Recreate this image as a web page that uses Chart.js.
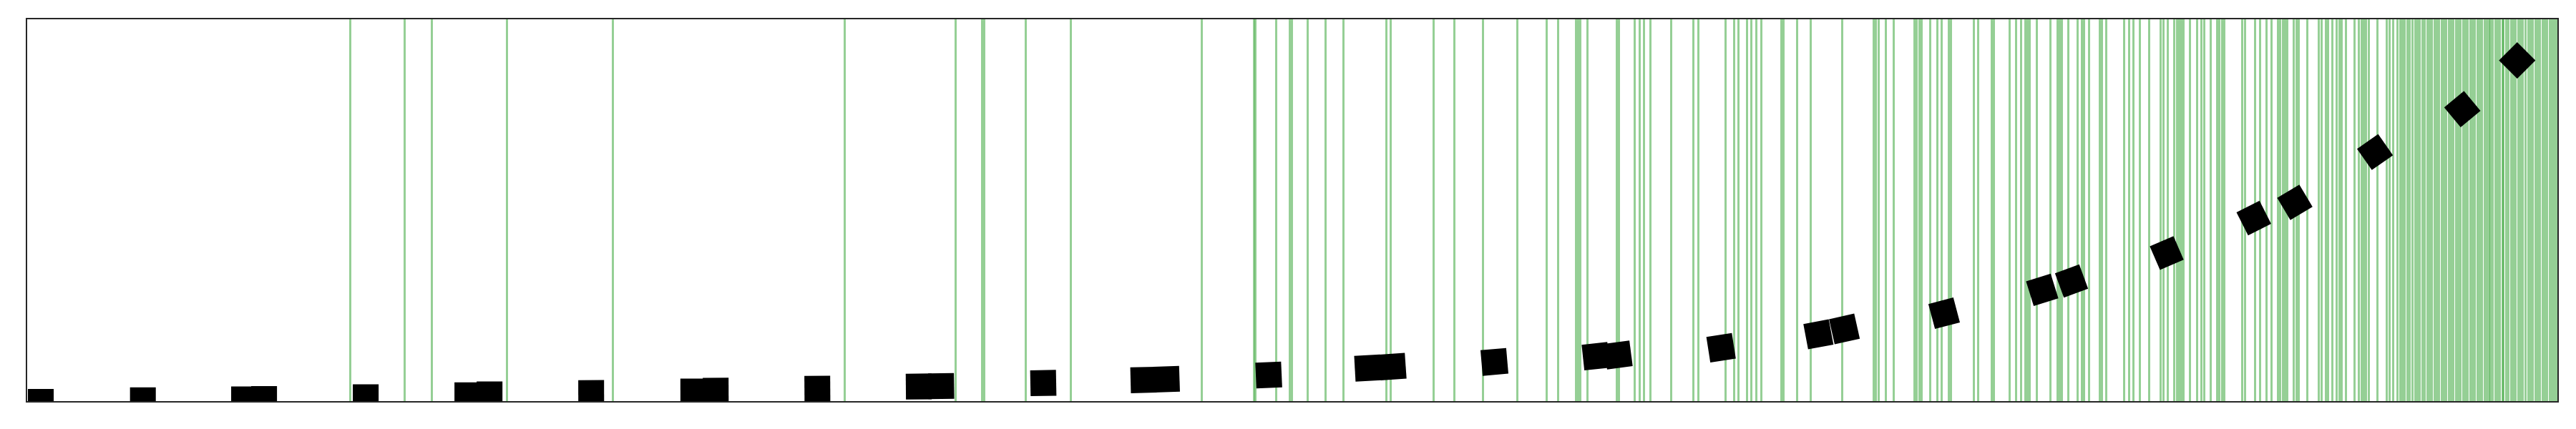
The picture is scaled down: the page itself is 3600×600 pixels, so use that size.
<!DOCTYPE html>
<html lang="en">
<head>
    <meta charset="UTF-8">
    <title>Markers and events</title>
    <style>
        body { margin: 0; background: #ffffff; }
        #plot { display: block; }
    </style>
    <script src="https://cdn.jsdelivr.net/npm/chart.js"></script>
</head>
<body>
    <canvas id="plot" width="3600" height="600"></canvas>

    <script>
        // Marker positions (day index) and their values
        const pointDays = [
            6.0, 48.8, 91.2, 99.6, 142.2, 184.8, 194.1, 236.7, 279.5, 288.9,
            331.5, 374.0, 383.4, 426.2, 468.2, 477.9, 520.7, 562.2, 572.7, 615.3,
            657.8, 667.2, 710.3, 751.1, 762.0, 803.8, 844.9, 857.2, 897.1, 933.6,
            950.8, 984.4, 1021.0, 1044.0
        ];
        const pointValues = [
            0.0, 0.4, 0.65, 0.75, 1.2, 1.7, 1.95, 2.3, 2.7, 2.9,
            3.4, 4.0, 4.1, 4.9, 5.7, 5.9, 7.0, 8.8, 9.2, 10.4,
            11.9, 12.2, 14.1, 17.6, 19.0, 23.1, 29.2, 31.5, 38.8, 47.9,
            52.0, 65.1, 76.3, 89.0
        ];

        // Days with an event (green vertical lines)
        const eventDays = [
            135.8, 158.6, 170.0, 201.3, 245.7, 343.0, 389.5, 400.6, 401.4, 418.8,
            437.7, 492.5, 514.4, 515.1, 523.8, 529.4, 530.3, 536.9, 544.5, 552.1,
            570.0, 571.9, 589.9, 598.4, 610.6, 624.9, 637.1, 641.9, 649.4, 650.4,
            651.4, 654.3, 666.6, 667.6, 674.1, 676.1, 678.0, 680.7, 689.3, 698.7,
            700.7, 712.1, 715.8, 717.6, 721.3, 723.1, 725.2, 727.2, 735.6, 736.6,
            742.1, 747.9, 761.1, 774.3, 775.3, 776.4, 779.4, 782.8, 791.4, 792.4,
            793.4, 794.4, 797.9, 801.0, 802.9, 805.7, 806.7, 816.2, 818.0, 823.7,
            824.7, 831.2, 834.0, 836.0, 837.9, 838.8, 839.8, 842.8, 848.5, 851.2,
            852.1, 853.0, 855.7, 859.7, 861.5, 862.4, 864.4, 869.0, 870.0, 871.8,
            879.3, 881.3, 883.1, 885.9, 889.8, 894.6, 895.6, 897.4, 900.3, 901.3,
            902.3, 903.3, 904.2, 906.9, 909.7, 911.7, 912.7, 915.4, 918.2, 919.2,
            920.2, 921.2, 928.8, 929.8, 934.2, 936.2, 939.0, 941.0, 943.7, 944.7,
            945.7, 946.7, 947.7, 950.4, 951.4, 952.4, 956.0, 960.7, 961.9, 963.7,
            964.7, 966.4, 968.4, 969.4, 970.4, 972.2, 975.9, 977.7, 978.7, 979.7,
            980.7, 981.7, 985.5, 989.2, 990.5, 991.9, 993.9, 994.9, 995.9, 996.9,
            997.9, 998.9, 1000.0, 1001.2, 1002.2, 1003.2, 1004.2, 1005.3, 1006.3, 1007.3,
            1008.2, 1009.3, 1010.3, 1011.3, 1012.3, 1013.3, 1014.3, 1015.3, 1016.3, 1017.2,
            1018.3, 1019.3, 1020.3, 1021.3, 1022.3, 1023.2, 1024.3, 1025.3, 1026.3, 1027.3,
            1028.3, 1029.3, 1030.3, 1031.3, 1032.3, 1032.7, 1033.8, 1034.8, 1035.8, 1036.8,
            1037.8, 1038.3, 1039.4, 1040.4, 1041.4, 1042.4, 1043.4, 1044.4, 1045.4, 1046.4,
            1047.5, 1048.6, 1049.6, 1050.6, 1051.6, 1052.6, 1053.6, 1054.6, 1055.6, 1056.6,
            1057.6, 1058.6, 1059.6, 1060.5
        ];

        const dayMin = 0;
        const dayMax = 1061;
        const valueMin = 0;
        const valueMax = 100;

        const frameColor = '#262626';
        const eventColor = 'rgba(44, 160, 44, 0.5)';

        const points = pointDays.map((d, i) => ({ x: d, y: pointValues[i] }));

        // Hidden axis used only to draw a frame edge
        function frameAxis(position, min, max) {
            return {
                type: 'linear',
                position: position,
                min: min,
                max: max,
                ticks: { display: false },
                grid: { display: false, drawTicks: false },
                border: { display: true, color: frameColor, width: 2, z: 1 }
            };
        }

        const ctx = document.getElementById('plot').getContext('2d');
        new Chart(ctx, {
            type: 'scatter',
            data: {
                datasets: [{
                    data: points,
                    backgroundColor: '#000000',
                    borderColor: '#000000',
                    borderWidth: 0,
                    pointStyle: 'rect',
                    pointRadius: 25.5,
                    pointHoverRadius: 25.5,
                    // markers tilt more and more towards the end
                    pointRotation: function(c) {
                        const t = c.dataIndex / (pointDays.length - 1);
                        return -45 * Math.pow(t, 4);
                    }
                }]
            },
            options: {
                responsive: false,
                animation: false,
                devicePixelRatio: 1,
                layout: { padding: { left: 37, top: 24, right: 24, bottom: 38 } },
                plugins: {
                    legend: { display: false },
                    tooltip: { enabled: false }
                },
                scales: {
                    x: {
                        type: 'linear',
                        position: 'bottom',
                        min: dayMin,
                        max: dayMax,
                        // one grid line per event day
                        afterBuildTicks: function(axis) {
                            axis.ticks = eventDays.map(v => ({ value: v }));
                        },
                        ticks: { display: false },
                        grid: { display: true, drawTicks: false, color: eventColor, lineWidth: 3 },
                        border: { display: true, color: frameColor, width: 2, z: 1 }
                    },
                    y: {
                        type: 'linear',
                        position: 'left',
                        min: valueMin,
                        max: valueMax,
                        ticks: { display: false },
                        grid: { display: false, drawTicks: false },
                        border: { display: true, color: frameColor, width: 2, z: 1 }
                    },
                    xTop: frameAxis('top', dayMin, dayMax),
                    yRight: frameAxis('right', valueMin, valueMax)
                }
            }
        });
    </script>
</body>
</html>
